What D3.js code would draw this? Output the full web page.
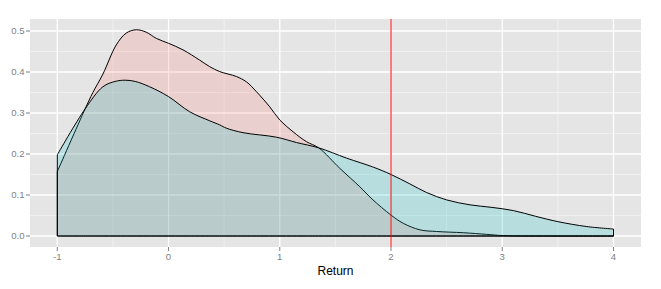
<!DOCTYPE html>
<html>
<head>
<meta charset="utf-8">
<script src="https://cdn.jsdelivr.net/npm/d3@7"></script>
<style>
  body { margin: 0; background: #fff; }
  text { font-family: "Liberation Sans", Arial, Helvetica, sans-serif; }
</style>
</head>
<body>
<script>
  // density estimates
  const redX = [-1, -0.75, -0.68, -0.59, -0.47, -0.38, -0.29, -0.2, -0.11, 0, 0.13, 0.28, 0.37, 0.46, 0.61, 0.7, 0.79, 0.91, 1.0, 1.12, 1.24, 1.35, 1.54, 1.72, 1.83, 2.0, 2.11, 2.26, 2.41, 2.65, 2.86, 3.01, 3.5, 4];
  const redY = [0.157, 0.31, 0.35, 0.395, 0.466, 0.495, 0.503, 0.497, 0.482, 0.47, 0.454, 0.429, 0.413, 0.401, 0.389, 0.376, 0.352, 0.315, 0.283, 0.254, 0.23, 0.215, 0.165, 0.12, 0.09, 0.051, 0.031, 0.015, 0.011, 0.008, 0.004, 0.001, 0, 0];
  const tealX = [-1, -0.75, -0.59, -0.48, -0.39, -0.3, -0.17, 0, 0.19, 0.37, 0.46, 0.52, 0.67, 0.97, 1.15, 1.35, 1.6, 1.84, 2.0, 2.17, 2.32, 2.5, 2.71, 2.9, 3.1, 3.3, 3.5, 3.76, 4];
  const tealY = [0.198, 0.31, 0.364, 0.377, 0.38, 0.377, 0.364, 0.34, 0.303, 0.281, 0.271, 0.263, 0.252, 0.241, 0.228, 0.215, 0.19, 0.168, 0.15, 0.127, 0.106, 0.088, 0.076, 0.07, 0.062, 0.048, 0.035, 0.023, 0.017];
  const xTicks = [-1, 0, 1, 2, 3, 4];
  const yTicks = [0, 0.1, 0.2, 0.3, 0.4, 0.5];
  const vline = 2;

  const w = 661, h = 289;
  const pl = 30, pr = 641, pt = 19, pb = 247;

  const x = d3.scaleLinear().domain([-1, 4]).range([57.3, 613.5]);
  const y = d3.scaleLinear().domain([0, 0.5]).range([236, 31]);

  const svg = d3.select("body").append("svg")
    .attr("width", w).attr("height", h);

  svg.append("rect")
    .attr("x", pl).attr("y", pt)
    .attr("width", pr - pl).attr("height", pb - pt)
    .attr("fill", "#e5e5e5");

  // minor grid
  const xMinor = xTicks.slice(1).map(d => d - 0.5);
  const yMinor = yTicks.slice(1).map(d => d - 0.05);
  svg.selectAll(".xmin").data(xMinor).enter().append("line")
    .attr("x1", d => x(d)).attr("x2", d => x(d))
    .attr("y1", pt).attr("y2", pb)
    .attr("stroke", "#f2f2f2").attr("stroke-width", 0.8);
  svg.selectAll(".ymin").data(yMinor).enter().append("line")
    .attr("x1", pl).attr("x2", pr)
    .attr("y1", d => y(d)).attr("y2", d => y(d))
    .attr("stroke", "#f2f2f2").attr("stroke-width", 0.8);

  // major grid
  svg.selectAll(".xmaj").data(xTicks).enter().append("line")
    .attr("x1", d => x(d)).attr("x2", d => x(d))
    .attr("y1", pt).attr("y2", pb)
    .attr("stroke", "#fff").attr("stroke-width", 1.3);
  svg.selectAll(".ymaj").data(yTicks).enter().append("line")
    .attr("x1", pl).attr("x2", pr)
    .attr("y1", d => y(d)).attr("y2", d => y(d))
    .attr("stroke", "#fff").attr("stroke-width", 1.3);

  const area = d3.area()
    .x(d => x(d[0]))
    .y0(y(0))
    .y1(d => y(Math.max(0, d[1])))
    .curve(d3.curveCatmullRom.alpha(0.5));

  const series = [
    { pts: d3.zip(redX, redY), fill: "#F8766D" },
    { pts: d3.zip(tealX, tealY), fill: "#00BFC4" }
  ];

  svg.selectAll(".dens").data(series).enter().append("path")
    .attr("d", d => area(d.pts))
    .attr("fill", d => d.fill)
    .attr("fill-opacity", 0.2)
    .attr("stroke", "#000")
    .attr("stroke-width", 1)
    .attr("stroke-linejoin", "round");

  svg.append("line")
    .attr("x1", x(vline)).attr("x2", x(vline))
    .attr("y1", pt).attr("y2", pb)
    .attr("stroke", "#ff0000").attr("stroke-width", 1);

  // axes
  svg.selectAll(".xt").data(xTicks).enter().append("line")
    .attr("x1", d => x(d)).attr("x2", d => x(d))
    .attr("y1", pb).attr("y2", pb + 4)
    .attr("stroke", "#7f7f7f").attr("stroke-width", 1);
  svg.selectAll(".xl").data(xTicks).enter().append("text")
    .attr("x", d => x(d)).attr("y", 260)
    .attr("text-anchor", "middle")
    .attr("font-size", 9.6).attr("fill", "#7f7f7f")
    .text(d => d);

  svg.selectAll(".yt").data(yTicks).enter().append("line")
    .attr("x1", pl - 4).attr("x2", pl)
    .attr("y1", d => y(d)).attr("y2", d => y(d))
    .attr("stroke", "#7f7f7f").attr("stroke-width", 1);
  svg.selectAll(".yl").data(yTicks).enter().append("text")
    .attr("x", pl - 5.5).attr("y", d => y(d) + 3.4)
    .attr("text-anchor", "end")
    .attr("font-size", 9.6).attr("fill", "#7f7f7f")
    .text(d => d.toFixed(1));

  svg.append("text")
    .attr("x", (pl + pr) / 2).attr("y", 275)
    .attr("text-anchor", "middle")
    .attr("font-size", 12).attr("fill", "#000")
    .text("Return");
</script>
</body>
</html>
